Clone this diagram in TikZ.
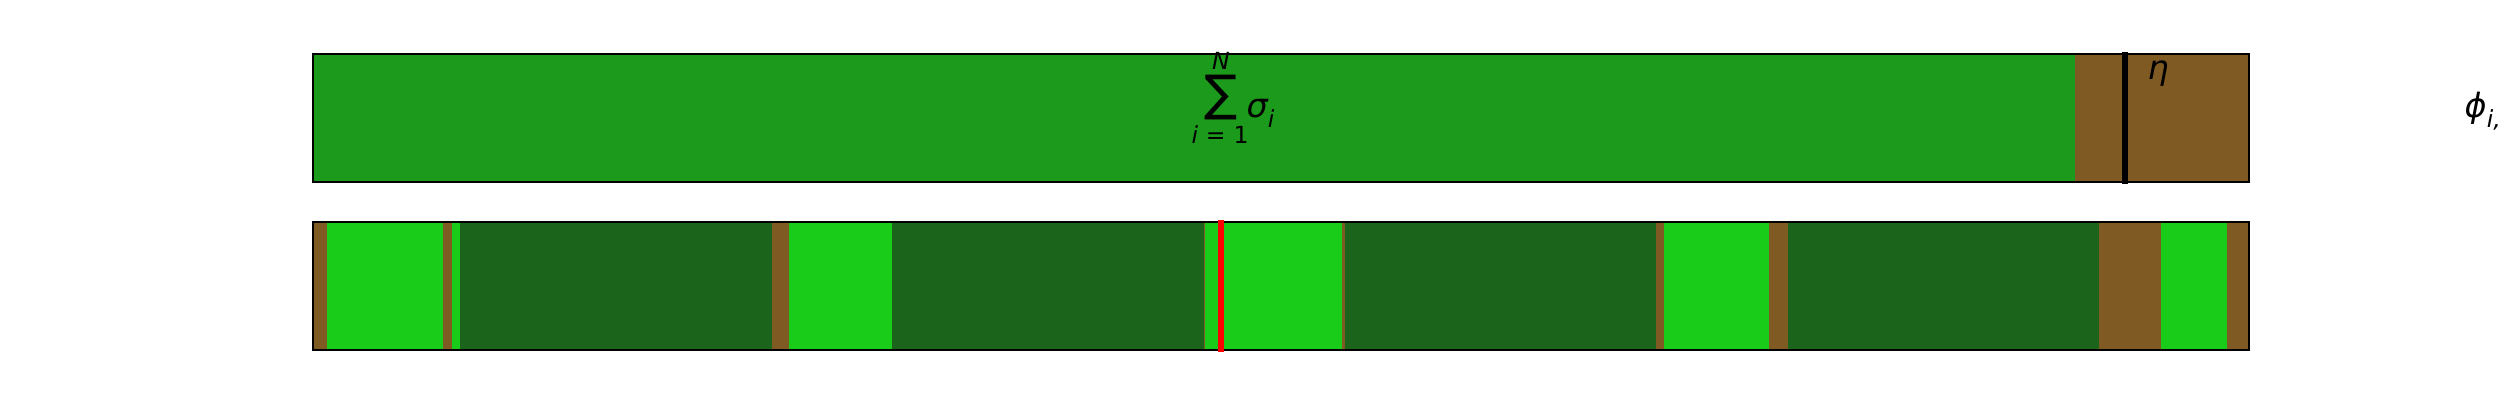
\documentclass[tikz,border=0pt]{standalone}
\usepackage{fontspec}
\setmainfont{DejaVu Sans}
\usetikzlibrary{positioning}
\definecolor{sumgreen}{RGB}{28,154,28}
\definecolor{soilbrown}{RGB}{127,90,34}
\definecolor{litegreen}{RGB}{25,204,25}
\definecolor{deepgreen}{RGB}{27,100,27}

\begin{document}
\begin{tikzpicture}[
    x=0.1mm, y=-0.1mm,
    barframe/.style={draw=black, line width=0.57pt},
    cutline/.style={line width=1.5pt},
    lbl/.style={inner sep=0pt, font=\fontsize{9.5}{11}\selectfont\itshape},
    lim/.style={inner sep=0pt, font=\fontsize{6.7}{8}\selectfont}
]
\useasboundingbox (0,0) rectangle (2500,400);

% === Top bar: total sum and eta ===
\fill[sumgreen] (313,54) rectangle (2075,182);
\fill[soilbrown] (2075,54) rectangle (2249,182);
\draw[barframe] (313,54) rectangle (2249,182);

\coordinate (etatop) at (2125,52);
\coordinate (etabot) at (2125,184);
\draw[cutline, black] (etatop) -- (etabot);

\node[inner sep=0pt, font=\fontsize{14}{14}\selectfont] (sumsign) at (1221,98) {∑};
\node[lim] (sumtop) at (1221,61) {\itshape N};
\node[lim] (sumbot) at (1220,135) {\itshape i\upshape\,\,=\,\,1};
\node[lbl, anchor=base west] (sigmalbl) at (1246,117) {σ\raisebox{-0.3em}{\fontsize{6.7}{8}\selectfont i}};
\node[lbl, anchor=base west] (etalbl) at (2147,79) {η};

% === Bottom bar: segments ===
\foreach \xa/\xb/\col in {313/327/soilbrown, 327/443/litegreen, 443/452/soilbrown,
    452/460/litegreen, 460/772/deepgreen, 772/789/soilbrown, 789/892/litegreen,
    892/1204/deepgreen, 1204/1205/soilbrown, 1205/1342/litegreen, 1342/1345/soilbrown,
    1345/1656/deepgreen, 1656/1664/soilbrown, 1664/1769/litegreen, 1769/1788/soilbrown,
    1788/2099/deepgreen, 2099/2161/soilbrown, 2161/2227/litegreen, 2227/2249/soilbrown}
    \fill[\col] (\xa,222) rectangle (\xb,350);
\draw[barframe] (313,222) rectangle (2249,350);

\coordinate (redtop) at (1221,220);
\coordinate (redbot) at (1221,352);
\draw[cutline, red] (redtop) -- (redbot);

% Side label
\node[lbl, anchor=base west] (philbl) at (2464,117) {ϕ\raisebox{-0.3em}{\fontsize{6.7}{8}\selectfont i,}};
\end{tikzpicture}
\end{document}
